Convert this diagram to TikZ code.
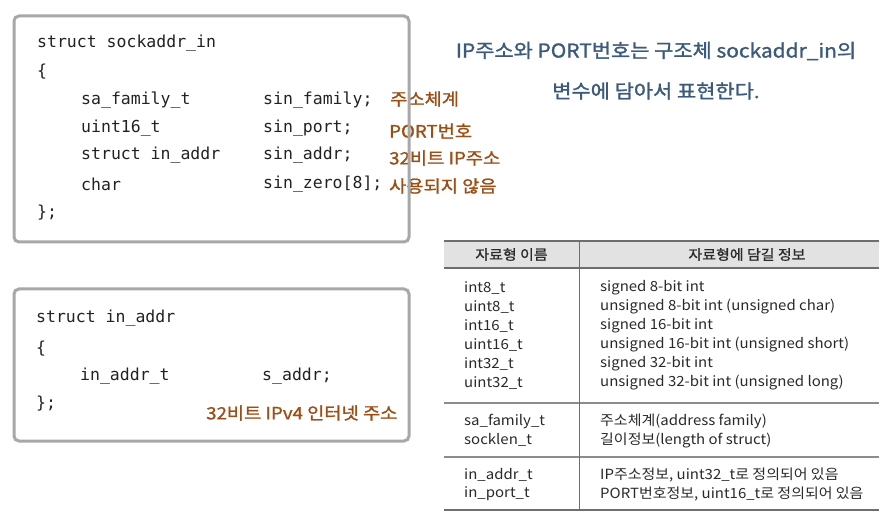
\documentclass[tikz,border=0pt]{standalone}
\usepackage{fontspec}
\setmainfont{Noto Sans CJK KR}
\newfontfamily\codefont{DejaVu Sans Mono}
\newfontfamily\krfont{Noto Sans CJK KR}
\newfontfamily\annofont[FakeStretch=1.1,FakeBold=1.2]{Noto Sans CJK KR}
\newfontfamily\titlefont[FakeStretch=1.1,FakeBold=1.4]{Noto Sans CJK KR}
\newfontfamily\tabfont[FakeStretch=1.07]{Noto Sans CJK KR}
\newfontfamily\hdrfont[FakeStretch=1.07,FakeBold=1.0]{Noto Sans CJK KR}
\definecolor{boxgray}{HTML}{A8A8A8}
\definecolor{codeblack}{HTML}{222222}
\definecolor{anno}{HTML}{9C4E14}
\definecolor{titleblue}{HTML}{3C5A7C}
\definecolor{hdrfill}{HTML}{E2E2E2}
\definecolor{tline}{HTML}{6E6E6E}
\definecolor{tsep}{HTML}{8C8C8C}
\definecolor{ttext}{HTML}{2A2A2A}
\tikzset{
  code/.style={anchor=west, inner sep=0pt, text=codeblack, font=\codefont\fontsize{16.5}{20}\selectfont},
  annot/.style={anchor=west, inner sep=0pt, text=anno, font=\annofont\fontsize{17}{20}\selectfont},
  blue/.style={inner sep=0pt, text=titleblue, font=\titlefont\fontsize{19}{24}\selectfont},
  cell/.style={anchor=west, inner sep=0pt, text=ttext, font=\tabfont\fontsize{14}{19}\selectfont},
  hdr/.style={inner sep=0pt, text=ttext, font=\hdrfont\fontsize{14}{19}\selectfont},
  codebox/.style={draw=boxgray, line width=3pt, rounded corners=5pt},
}
\begin{document}
\begin{tikzpicture}[x=1pt,y=-1pt]
\useasboundingbox[fill=white] (0,0) rectangle (892,521);

% ---- struct sockaddr_in ----
\node[code] (s1) at (37,43) {struct sockaddr\_in};
\node[code] (s2) at (37,72) {\{};
\node[code] (s3a) at (81,100) {sa\_family\_t};
\node[code] (s3b) at (263,100) {sin\_family;};
\node[code] (s4a) at (81,128) {uint16\_t};
\node[code] (s4b) at (263,128) {sin\_port;};
\node[code] (s5a) at (81,155) {struct in\_addr};
\node[code] (s5b) at (263,155) {sin\_addr;};
\node[code] (s6a) at (81,184) {char};
\node[code] (s6b) at (263,184) {sin\_zero[8];};
\node[code] (s7) at (37,213) {\};};

\node[annot] (a1) at (390,99) {주소체계};
\node[annot] (a2) at (389,131) {PORT번호};
\node[annot] (a3) at (389,158) {32비트 IP주소};
\node[annot] (a4) at (389,186) {사용되지 않음};

\draw[codebox] (14,16) rectangle (409,242);

% ---- struct in_addr ----
\node[code] (i1) at (36,318) {struct in\_addr};
\node[code] (i2) at (36,349) {\{};
\node[code] (i3a) at (80,376) {in\_addr\_t};
\node[code] (i3b) at (262,376) {s\_addr;};
\node[code] (i4) at (36,404) {\};};
\node[annot] (a5) at (206,413) {32비트 IPv4 인터넷 주소};

\draw[codebox] (14,289) rectangle (409,441);

% ---- title ----
\node[blue] (t1) at (656,51) {IP주소와 PORT번호는 구조체 sockaddr\_in의};
\node[blue] (t2) at (656,91) {변수에 담아서 표현한다.};

% ---- table ----
\fill[hdrfill] (444,241) rectangle (879,268);
\draw[tline, line width=1.6pt] (444,241) -- (879,241);
\draw[tline, line width=1.6pt] (444,268) -- (879,268);
\draw[tsep, line width=1.2pt] (444,403) -- (879,403);
\draw[tsep, line width=1.2pt] (444,457) -- (879,457);
\draw[tline, line width=1.6pt] (444,510) -- (879,510);
\draw[tline, line width=1pt] (579,241) -- (579,510);

\node[hdr] (h1) at (511.5,254.5) {자료형 이름};
\node[hdr] (h2) at (747,254.5) {자료형에 담길 정보};

\node[cell] (c1) at (464,288) {int8\_t};
\node[cell] (c2) at (464,307) {uint8\_t};
\node[cell] (c3) at (464,326) {int16\_t};
\node[cell] (c4) at (464,345) {uint16\_t};
\node[cell] (c5) at (464,364) {int32\_t};
\node[cell] (c6) at (464,383) {uint32\_t};
\node[cell] (c7) at (464,421) {sa\_family\_t};
\node[cell] (c8) at (464,440) {socklen\_t};
\node[cell] (c9) at (464,475) {in\_addr\_t};
\node[cell] (c10) at (464,494) {in\_port\_t};

\node[cell] (d1) at (600,288) {signed 8-bit int};
\node[cell] (d2) at (600,307) {unsigned 8-bit int (unsigned char)};
\node[cell] (d3) at (600,326) {signed 16-bit int};
\node[cell] (d4) at (600,345) {unsigned 16-bit int (unsigned short)};
\node[cell] (d5) at (600,364) {signed 32-bit int};
\node[cell] (d6) at (600,383) {unsigned 32-bit int (unsigned long)};
\node[cell] (d7) at (600,421) {주소체계(address family)};
\node[cell] (d8) at (600,440) {길이정보(length of struct)};
\node[cell] (d9) at (600,475) {IP주소정보, uint32\_t로 정의되어 있음};
\node[cell] (d10) at (600,494) {PORT번호정보, uint16\_t로 정의되어 있음};
\end{tikzpicture}
\end{document}
